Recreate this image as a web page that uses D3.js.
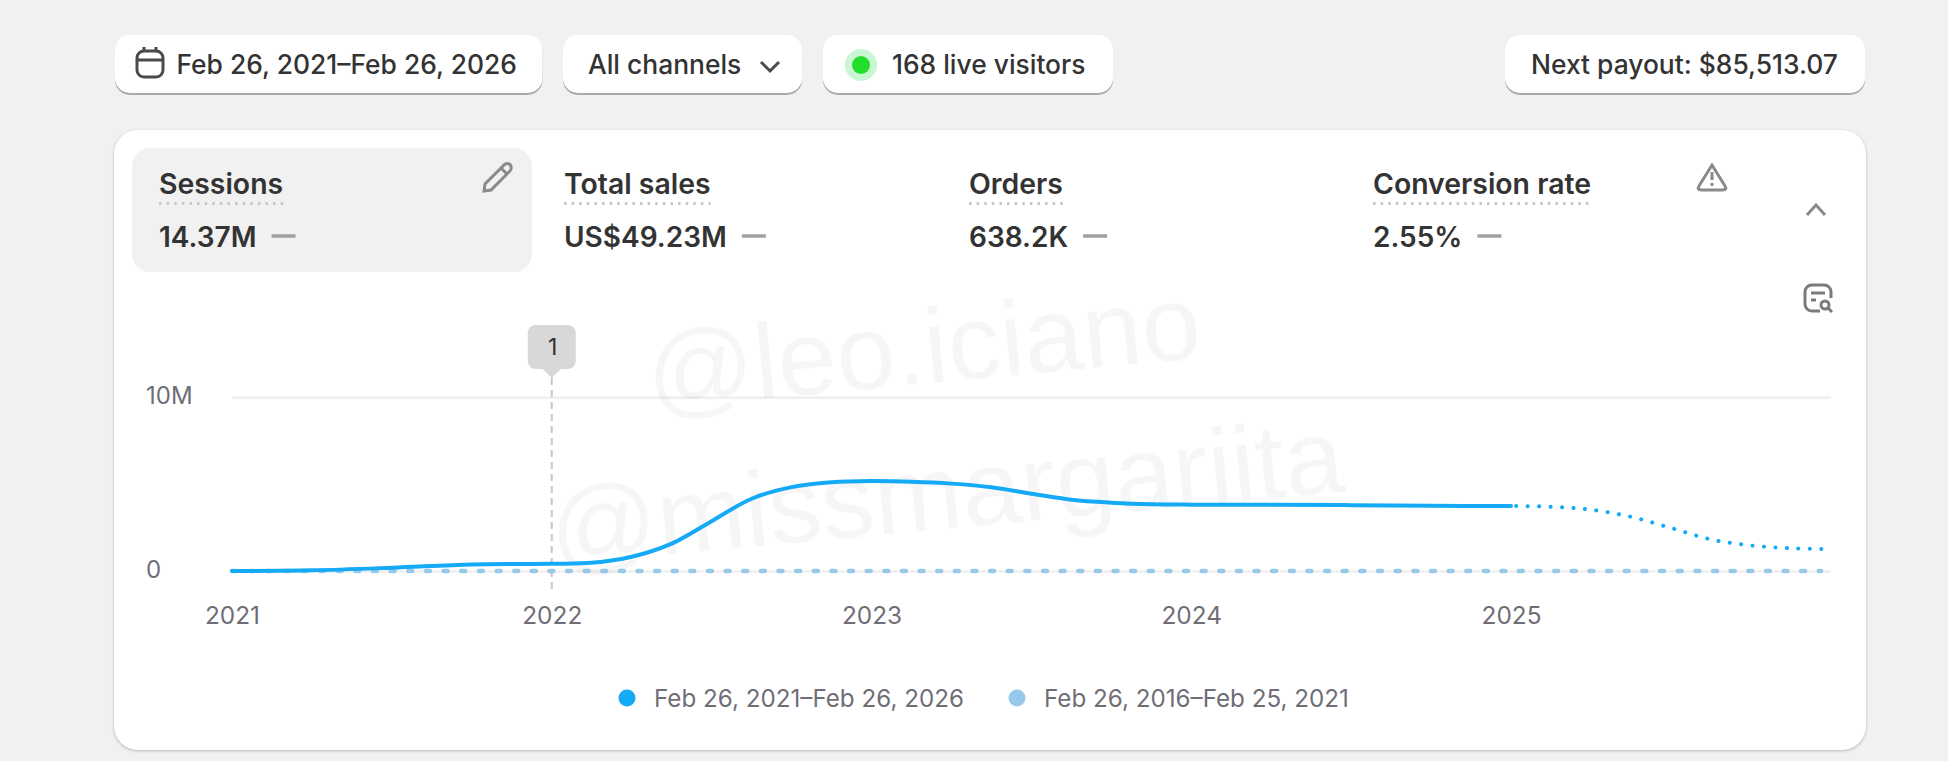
<!DOCTYPE html>
<html>
<head>
<meta charset="utf-8">
<script src="https://cdn.jsdelivr.net/npm/d3@7"></script>
<style>
  html, body { margin: 0; padding: 0; background: #f1f1f1; overflow: hidden; }
  svg { display: block; font-family: Inter, sans-serif; }
</style>
</head>
<body>
<svg id="chart" width="1948" height="761"></svg>
<script>
// Chart data
var solidYears = [2021, 2021.25, 2021.5, 2021.75, 2022, 2022.125, 2022.25, 2022.375, 2022.5, 2022.625, 2022.75, 2022.875, 2023, 2023.125, 2023.25, 2023.375, 2023.5, 2023.625, 2023.75, 2023.875, 2024, 2024.25, 2024.5, 2024.75, 2025];
var solidSessions = [0, 0.04, 0.19, 0.38, 0.42, 0.47, 0.82, 1.58, 2.87, 4.16, 4.83, 5.11, 5.18, 5.14, 5.03, 4.82, 4.45, 4.1, 3.93, 3.84, 3.82, 3.82, 3.79, 3.75, 3.74];
var dottedYears = [2025, 2025.125, 2025.25, 2025.375, 2025.5, 2025.625, 2025.75, 2025.875, 2025.985];
var dottedSessions = [3.74, 3.7, 3.53, 3.12, 2.48, 1.82, 1.47, 1.31, 1.27];
var previousYears = [2021, 2022, 2023, 2024, 2025, 2025.97];
var previousSessions = [0, 0, 0, 0, 0, 0];
var xTicks = [2021, 2022, 2023, 2024, 2025];
var yTicks = [0, 10];
var annotationYear = 2022;

var metricNames = ["Sessions", "Total sales", "Orders", "Conversion rate"];
var metricValues = ["14.37M", "US$49.23M", "638.2K", "2.55%"];
var legendLabels = ["Feb 26, 2021–Feb 26, 2026", "Feb 26, 2016–Feb 25, 2021"];

var svg = d3.select("#chart");
var ink = "#333333", grey = "#6f6e77";

// Little helper for the white pills on top
function pill(x0, x1, y0, y1, r) {
  svg.append("rect").attr("x", x0).attr("y", y0)
    .attr("width", x1 - x0).attr("height", y1 - y0).attr("rx", r)
    .attr("fill", "#fff").style("filter", "drop-shadow(0 2px 0.6px #a9a9a9)");
}
function label(x, y, text, size, weight, color) {
  return svg.append("text").attr("x", x).attr("y", y).text(text)
    .attr("font-size", size).attr("font-weight", weight).attr("fill", color);
}

// Top bar
pill(115, 542.5, 35, 93, 15);
pill(563, 802, 35, 93, 15);
pill(823, 1113, 35, 93, 15);
pill(1505, 1865, 35, 93, 15);

label(176.5, 74, "Feb 26, 2021–Feb 26, 2026", 26.4, 500, ink);
label(588, 74, "All channels", 26.4, 500, ink);
label(892, 74, "168 live visitors", 26.4, 500, ink);
label(1531, 74, "Next payout: $85,513.07", 26.4, 500, ink);

// Calendar icon
var cal = svg.append("g").attr("fill", "none").attr("stroke", "#4a4a4a").attr("stroke-width", 3);
cal.append("rect").attr("x", 137).attr("y", 51).attr("width", 26).attr("height", 26).attr("rx", 7);
cal.append("path").attr("d", "M137 60H163M144 47V52M156 47V52");

svg.append("path").attr("d", "M761 62L770 71L779 62").attr("fill", "none")
  .attr("stroke", "#4a4a4a").attr("stroke-width", 3);

svg.append("circle").attr("cx", 861).attr("cy", 65).attr("r", 16).attr("fill", "#c9f7d3");
svg.append("circle").attr("cx", 861).attr("cy", 65).attr("r", 9).attr("fill", "#22dd2c");

// Card
svg.append("rect").attr("x", 114).attr("y", 130).attr("width", 1752).attr("height", 620).attr("rx", 24)
  .attr("fill", "#fff").style("filter", "drop-shadow(0 1px 1.5px #b5b5b5)");
svg.append("rect").attr("x", 132).attr("y", 148).attr("width", 400).attr("height", 124).attr("rx", 18)
  .attr("fill", "#f1f1f1");

// Metric tiles
var metricX = [159, 564, 969, 1373];
metricNames.forEach(function (name, i) {
  var t = label(metricX[i], 194, name, 28.4, 600, ink);
  var w = t.node().getComputedTextLength();
  svg.append("line").attr("x1", metricX[i]).attr("x2", metricX[i] + w)
    .attr("y1", 203.5).attr("y2", 203.5).attr("stroke", "#c8c8c8")
    .attr("stroke-width", 3).attr("stroke-dasharray", "2.6 5");
  var v = label(metricX[i], 246.5, metricValues[i], 28, 600, ink);
  var vw = v.node().getComputedTextLength();
  svg.append("line").attr("x1", metricX[i] + vw + 15).attr("x2", metricX[i] + vw + 39)
    .attr("y1", 236).attr("y2", 236).attr("stroke", "#a0a0a0").attr("stroke-width", 3.5);
});

// Small icons
var pencil = svg.append("g").attr("fill", "none").attr("stroke", "#8a8a8a").attr("stroke-width", 3);
pencil.append("path").attr("d", "M484 191L485 184L503 166C506 162 512 163 511 169C511 170 510 171 509 172L491 190Z");
pencil.append("path").attr("d", "M501 168L507 174");
svg.append("path").attr("d", "M1712 165L1699 186C1697 189 1699 190 1702 190H1722C1725 190 1727 189 1725 186Z")
  .attr("fill", "none").attr("stroke", "#8a8a8a").attr("stroke-width", 3);
svg.append("path").attr("d", "M1712 172V180M1712 183V186").attr("stroke", "#8a8a8a").attr("stroke-width", 3);
svg.append("path").attr("d", "M1807 215L1816 205L1825 215").attr("fill", "none")
  .attr("stroke", "#8a8a8a").attr("stroke-width", 3);
var note = svg.append("g").attr("fill", "none").attr("stroke", "#7a7a7a").attr("stroke-width", 3);
note.append("path").attr("d", "M1820 311H1812C1808 311 1805 308 1805 304V292C1805 288 1808 285 1812 285H1824C1828 285 1831 288 1831 292V298");
note.append("path").attr("d", "M1811 293H1825M1811 300H1816");
note.append("circle").attr("cx", 1825).attr("cy", 305).attr("r", 4);
note.append("path").attr("d", "M1828 308L1832 312");

// Scales
var x = d3.scaleLinear().domain([2021, 2025]).range([232, 1511]);
var y = d3.scaleLinear().domain([0, 10]).range([571, 397.3]);

// Y axis and grid
var yAxis = svg.append("g").attr("transform", "translate(232,0)")
  .call(d3.axisLeft(y).tickValues(yTicks).tickSize(0).tickFormat(function (d) { return d ? d + "M" : "0"; }));
yAxis.select(".domain").remove();
yAxis.selectAll("text").attr("x", -86).attr("dy", 0).attr("y", 6).attr("text-anchor", "start")
  .attr("font-size", 24).attr("font-family", "Inter, sans-serif").attr("fill", grey);
yAxis.selectAll("line").attr("x2", x(2025.99) - 229).attr("stroke", "#efefef").attr("stroke-width", 2.5);

// X axis
var xAxis = svg.append("g").attr("transform", "translate(0,624)")
  .call(d3.axisBottom(x).tickValues(xTicks).tickSize(0).tickPadding(0).tickFormat(d3.format("d")));
xAxis.select(".domain").remove();
xAxis.selectAll("text").attr("y", 0).attr("dy", 0)
  .attr("font-size", 24.4).attr("font-family", "Inter, sans-serif").attr("fill", grey);

// Annotation
svg.append("line").attr("x1", x(annotationYear)).attr("x2", x(annotationYear))
  .attr("y1", 378).attr("y2", 594).attr("stroke", "#c6c6c6").attr("stroke-width", 2).attr("stroke-dasharray", "7 5");
var ax = x(annotationYear);
svg.append("path")
  .attr("d", "M" + (ax - 24) + " 333a8 8 0 0 1 8 -8h32a8 8 0 0 1 8 8v28a8 8 0 0 1 -8 8h-7l-9 9l-9 -9h-7a8 8 0 0 1 -8 -8z")
  .attr("fill", "#d8d8da");
label(ax + 1, 355, "1", 23, 400, "#303030").attr("text-anchor", "middle");

// Watermarks
svg.append("text").text("@leo.iciano").attr("transform", "translate(650,409) rotate(-5.3)")
  .attr("font-family", "Liberation Sans").attr("font-size", 106).attr("fill", "#000").attr("fill-opacity", 0.034);
svg.append("text").text("@missmargariita").attr("transform", "translate(553,565) rotate(-5.3)")
  .attr("font-family", "Liberation Sans").attr("font-size", 106).attr("fill", "#000").attr("fill-opacity", 0.034);

// Lines
var line = d3.line().x(function (d) { return x(d[0]); }).y(function (d) { return y(d[1]); }).curve(d3.curveCatmullRom.alpha(0.5));

svg.append("path").datum(d3.zip(previousYears, previousSessions)).attr("d", line)
  .attr("fill", "none").attr("stroke", "#97c9ea").attr("stroke-width", 4.4)
  .attr("stroke-linecap", "round").attr("stroke-dasharray", "4 13.63");
svg.append("path").datum(d3.zip(dottedYears, dottedSessions)).attr("d", line)
  .attr("fill", "none").attr("stroke", "#14aaf5").attr("stroke-width", 4)
  .attr("stroke-linecap", "round").attr("stroke-dasharray", "0.1 11.36").attr("stroke-dashoffset", -5.2);
svg.append("path").datum(d3.zip(solidYears, solidSessions)).attr("d", line)
  .attr("fill", "none").attr("stroke", "#14aaf5").attr("stroke-width", 4)
  .attr("stroke-linecap", "round");

// Legend
var legendX = [627, 1017];
var legendColors = ["#14aaf5", "#97c9ea"];
legendLabels.forEach(function (text, i) {
  svg.append("circle").attr("cx", legendX[i]).attr("cy", 698).attr("r", 8.5).attr("fill", legendColors[i]);
  label(legendX[i] + 27, 707, text, 24.2, 400, grey);
});
</script>
</body>
</html>
